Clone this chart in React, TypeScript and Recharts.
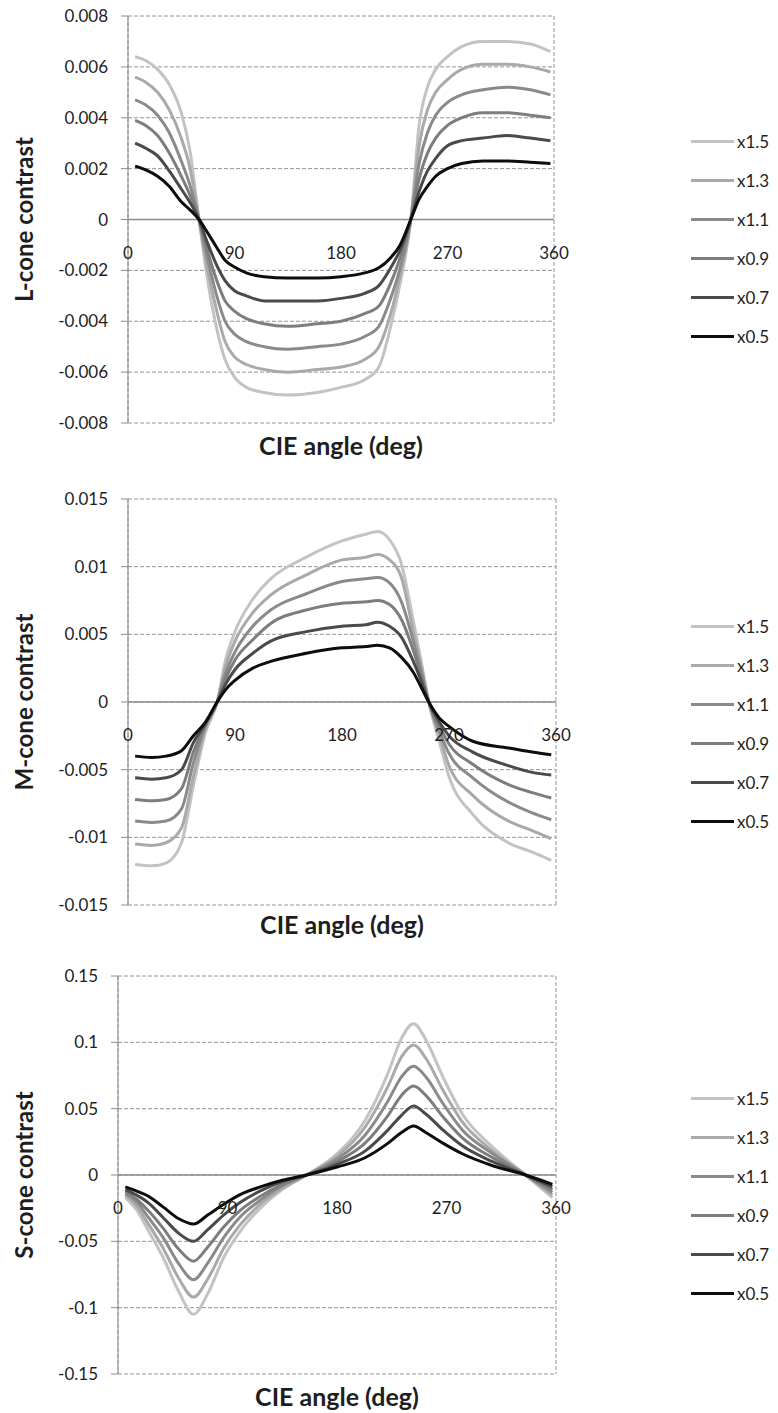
import { CartesianGrid, Legend, Line, LineChart, ReferenceDot, ReferenceLine, XAxis, YAxis } from "recharts";

// series names, keys (no dots in keys) and grey levels, lightest first
const SERIES = ["x1.5", "x1.3", "x1.1", "x0.9", "x0.7", "x0.5"];
const KEYS = ["s15", "s13", "s11", "s09", "s07", "s05"];
const COLORS = ["#c3c3c3", "#a9a9a9", "#8a8a8a", "#7d7d7d", "#4a4a4a", "#0d0d0d"];
const X_TICKS = [0, 90, 180, 270, 360];

// L-cone contrast
const lAngle = [6, 15, 25, 35, 45, 52, 60, 67, 75, 82, 90, 100, 115, 135, 160, 180, 200, 212, 222, 230, 239, 246, 253, 260, 270, 282, 300, 320, 340, 357];
const lX15 = [0.0064, 0.00625, 0.0059, 0.0053, 0.0042, 0.0028, 0, -0.0023, -0.0043, -0.0055, -0.0062, -0.0066, -0.0068, -0.0069, -0.0068, -0.0066, -0.0063, -0.0058, -0.0042, -0.0025, 0, 0.0037, 0.0052, 0.0059, 0.0064, 0.0068, 0.007, 0.007, 0.0069, 0.0066];
const lX13 = [0.0056, 0.0054, 0.005, 0.0043, 0.0032, 0.0021, 0, -0.0019, -0.0036, -0.0048, -0.0054, -0.0057, -0.0059, -0.006, -0.0059, -0.0058, -0.0055, -0.005, -0.0037, -0.0022, 0, 0.0029, 0.0043, 0.005, 0.0055, 0.0059, 0.0061, 0.0061, 0.006, 0.0058];
const lX11 = [0.0047, 0.0045, 0.0041, 0.0034, 0.0023, 0.0014, 0, -0.0015, -0.003, -0.004, -0.0045, -0.0048, -0.005, -0.0051, -0.005, -0.0049, -0.0046, -0.0042, -0.0031, -0.0019, 0, 0.0022, 0.0034, 0.0041, 0.0046, 0.0049, 0.0051, 0.0052, 0.0051, 0.0049];
const lX09 = [0.0039, 0.0037, 0.0033, 0.0026, 0.0017, 0.001, 0, -0.0012, -0.0024, -0.0032, -0.0036, -0.0039, -0.0041, -0.0042, -0.0041, -0.004, -0.0037, -0.0034, -0.0025, -0.0015, 0, 0.0016, 0.0026, 0.0032, 0.0037, 0.004, 0.0042, 0.0042, 0.0041, 0.004];
const lX07 = [0.003, 0.0028, 0.0025, 0.0019, 0.0012, 0.0007, 0, -0.0009, -0.0018, -0.0024, -0.0028, -0.003, -0.0032, -0.0032, -0.0032, -0.0031, -0.0029, -0.0026, -0.0019, -0.0012, 0, 0.0011, 0.0019, 0.0024, 0.0029, 0.0031, 0.0032, 0.0033, 0.0032, 0.0031];
const lX05 = [0.0021, 0.00195, 0.0017, 0.0013, 0.0007, 0.0004, 0, -0.0005, -0.0011, -0.0016, -0.00187, -0.0021, -0.00225, -0.0023, -0.0023, -0.00225, -0.0021, -0.0019, -0.0015, -0.001, 0, 0.0008, 0.0013, 0.0017, 0.002, 0.0022, 0.0023, 0.0023, 0.00225, 0.0022];
const lTicks = [-0.008, -0.006, -0.004, -0.002, 0, 0.002, 0.004, 0.006, 0.008];

// M-cone contrast
const mAngle = [6, 20, 32, 45, 55, 65, 75, 82, 90, 105, 120, 150, 180, 200, 210, 220, 230, 240, 246, 253, 262, 270, 290, 320, 340, 356];
const mX15 = [-0.012, -0.0121, -0.0119, -0.0104, -0.0062, -0.0023, 0, 0.0031, 0.0052, 0.0076, 0.0091, 0.0107, 0.0119, 0.0124, 0.0126, 0.012, 0.0102, 0.006, 0.0033, 0, -0.003, -0.0055, -0.0083, -0.0104, -0.0111, -0.0117];
const mX13 = [-0.0105, -0.0106, -0.0104, -0.0093, -0.0055, -0.002, 0, 0.0026, 0.0045, 0.0066, 0.0079, 0.0094, 0.0105, 0.0107, 0.0109, 0.0105, 0.0092, 0.0052, 0.0029, 0, -0.0025, -0.0047, -0.0069, -0.0088, -0.0095, -0.0101];
const mX11 = [-0.0088, -0.0089, -0.0088, -0.0079, -0.0045, -0.0018, 0, 0.0021, 0.0037, 0.0056, 0.0068, 0.008, 0.0089, 0.0091, 0.0092, 0.0088, 0.0074, 0.0045, 0.0025, 0, -0.0022, -0.0038, -0.0056, -0.0074, -0.0082, -0.0087];
const mX09 = [-0.0072, -0.0073, -0.0072, -0.0064, -0.0037, -0.0017, 0, 0.0017, 0.0031, 0.0046, 0.0058, 0.0068, 0.0073, 0.0074, 0.0075, 0.0072, 0.0061, 0.0038, 0.0021, 0, -0.0018, -0.0031, -0.0046, -0.0061, -0.0067, -0.0071];
const mX07 = [-0.0056, -0.0057, -0.0056, -0.005, -0.003, -0.0016, 0, 0.0013, 0.0024, 0.0036, 0.0045, 0.0052, 0.0056, 0.0057, 0.0059, 0.0056, 0.0048, 0.003, 0.0017, 0, -0.0015, -0.0025, -0.0037, -0.0047, -0.0052, -0.0054];
const mX05 = [-0.004, -0.0041, -0.004, -0.0036, -0.0025, -0.0015, 0, 0.0009, 0.0016, 0.0025, 0.003, 0.0036, 0.004, 0.0041, 0.0042, 0.004, 0.0033, 0.0022, 0.0012, 0, -0.0012, -0.0018, -0.0029, -0.0034, -0.0037, -0.0039];
const mTicks = [-0.015, -0.01, -0.005, 0, 0.005, 0.01, 0.015];

// S-cone contrast
const sAngle = [6, 15, 25, 37, 50, 62, 74, 87, 100, 117, 135, 155, 180, 203, 222, 233, 243, 253, 267, 283, 308, 335, 357];
const sX15 = [-0.017, -0.026, -0.042, -0.062, -0.088, -0.105, -0.089, -0.062, -0.043, -0.025, -0.011, 0, 0.016, 0.041, 0.077, 0.103, 0.114, 0.102, 0.074, 0.046, 0.021, 0, -0.017];
const sX13 = [-0.015, -0.023, -0.037, -0.055, -0.078, -0.092, -0.078, -0.055, -0.038, -0.022, -0.01, 0, 0.014, 0.036, 0.067, 0.089, 0.098, 0.088, 0.064, 0.04, 0.018, 0, -0.015];
const sX11 = [-0.014, -0.02, -0.032, -0.047, -0.067, -0.079, -0.066, -0.047, -0.032, -0.019, -0.008, 0, 0.012, 0.03, 0.056, 0.074, 0.082, 0.074, 0.054, 0.034, 0.016, 0, -0.013];
const sX09 = [-0.012, -0.018, -0.027, -0.04, -0.056, -0.065, -0.054, -0.039, -0.027, -0.016, -0.007, 0, 0.01, 0.024, 0.045, 0.06, 0.067, 0.06, 0.044, 0.028, 0.013, 0, -0.011];
const sX07 = [-0.011, -0.015, -0.021, -0.032, -0.044, -0.05, -0.041, -0.03, -0.021, -0.012, -0.005, 0, 0.008, 0.018, 0.034, 0.045, 0.052, 0.046, 0.034, 0.022, 0.01, 0, -0.009];
const sX05 = [-0.009, -0.012, -0.016, -0.024, -0.033, -0.037, -0.03, -0.022, -0.015, -0.009, -0.004, 0, 0.006, 0.013, 0.024, 0.032, 0.037, 0.032, 0.024, 0.016, 0.007, 0, -0.007];
const sTicks = [-0.15, -0.1, -0.05, 0, 0.05, 0.1, 0.15];

function buildRows(angle: number[], series: number[][]) {
    return angle.map((a, i) => {
        const row: Record<string, number> = { angle: a };
        KEYS.forEach((k, j) => { row[k] = series[j][i]; });
        return row;
    });
}

const lData = buildRows(lAngle, [lX15, lX13, lX11, lX09, lX07, lX05]);
const mData = buildRows(mAngle, [mX15, mX13, mX11, mX09, mX07, mX05]);
const sData = buildRows(sAngle, [sX15, sX13, sX11, sX09, sX07, sX05]);

const TEXT = "#1e1e1e";
const AXIS = "#8c8c8c";

function renderLegend(props: any) {
    const payload = props.payload || [];
    const items = SERIES.map((s) => payload.find((p: any) => p.value === s)).filter(Boolean);
    return (
        <div>
            {items.map((e: any) => (
                <div key={e.value} style={{ display: "flex", alignItems: "center", height: 39 }}>
                    <span style={{ display: "inline-block", width: 43, height: 3, background: e.color }} />
                    <span style={{ marginLeft: 3, fontSize: 17, color: TEXT }}>{e.value}</span>
                </div>
            ))}
        </div>
    );
}

function yTitle(text: string) {
    return (props: any) => {
        const vb = props.viewBox;
        const cx = 23;
        const cy = vb.y + vb.height / 2;
        return (
            <text x={cx} y={cy} transform={`rotate(-90 ${cx} ${cy})`} textAnchor="middle"
                dominantBaseline="central" fontSize={24} fontWeight="bold" fill={TEXT}>
                {text}
            </text>
        );
    };
}

interface PanelProps {
    data: Record<string, number>[];
    yTicks: number[];
    yLabel: string;
    height: number;
    top: number;
    right: number;
    yWidth: number;
    xHeight: number;
    legendTop: number;
}

function Panel(p: PanelProps) {
    return (
        <LineChart width={778} height={p.height} data={p.data}
            margin={{ top: p.top, right: p.right, left: 0, bottom: 0 }}>
            <CartesianGrid stroke="#949494" strokeDasharray="4 2" />
            <XAxis type="number" dataKey="angle" domain={[0, 360]} ticks={X_TICKS}
                tick={false} tickLine={false} axisLine={false} height={p.xHeight}
                label={{ value: "CIE angle (deg)", position: "center", fontSize: 25, fontWeight: "bold", fill: TEXT }} />
            <YAxis type="number" domain={[p.yTicks[0], p.yTicks[p.yTicks.length - 1]]} ticks={p.yTicks}
                interval={0} width={p.yWidth} tickSize={7} tickMargin={13} stroke={AXIS}
                tick={{ fill: TEXT, fontSize: 17 }} tickFormatter={(v: number) => String(v)}
                label={{ content: yTitle(p.yLabel) }} />
            <ReferenceLine y={0} stroke={AXIS} strokeWidth={1.5} />
            {X_TICKS.map((t) => (
                <ReferenceDot key={t} x={t} y={0} r={0} fill="none" stroke="none"
                    label={{ value: String(t), position: "bottom", offset: 27, fill: TEXT, fontSize: 17 }} />
            ))}
            <Legend layout="horizontal" verticalAlign="middle" align="right" content={renderLegend}
                wrapperStyle={{ left: 691, top: p.legendTop, width: 87, height: "auto" }} />
            {KEYS.map((k, i) => (
                <Line key={k} type="monotone" dataKey={k} name={SERIES[i]} stroke={COLORS[i]}
                    strokeWidth={3} dot={false} activeDot={false} isAnimationActive={false} />
            ))}
        </LineChart>
    );
}

export default function App() {
    return (
        <div style={{ position: "absolute", left: 0, top: 0, width: 778, height: 1413, overflow: "hidden", background: "#fff", fontFamily: "Lato, 'Open Sans', sans-serif" }}>
            <Panel data={lData} yTicks={lTicks} yLabel="L-cone contrast" height={470} top={16} right={137} yWidth={128} xHeight={47} legendTop={122} />
            <Panel data={mData} yTicks={mTicks} yLabel="M-cone contrast" height={475} top={29} right={135} yWidth={128} xHeight={40} legendTop={137} />
            <Panel data={sData} yTicks={sTicks} yLabel="S-cone contrast" height={476} top={31} right={135} yWidth={118} xHeight={47} legendTop={134} />
        </div>
    );
}
